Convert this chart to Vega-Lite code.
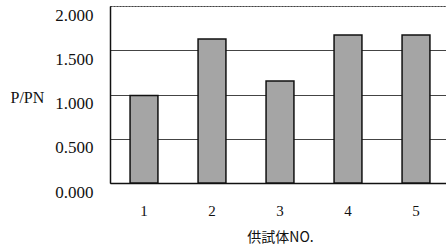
{
  "$schema": "https://vega.github.io/schema/vega-lite/v6.json",
  "autosize": "none",
  "padding": {"left": 110, "top": 6, "right": 0, "bottom": 66},
  "width": 340,
  "height": 177,
  "background": "white",
  "config": {
    "view": {"stroke": "#555", "strokeDash": [2, 1], "strokeWidth": 1},
    "font": "Liberation Serif"
  },
  "data": {"values": [
    {"no": "1", "ratio": 0.99},
    {"no": "2", "ratio": 1.627},
    {"no": "3", "ratio": 1.153},
    {"no": "4", "ratio": 1.672},
    {"no": "5", "ratio": 1.672}
  ]},
  "mark": {"type": "bar", "fill": "#a5a5a5", "stroke": "#111", "strokeWidth": 1.5},
  "encoding": {
    "x": {
      "field": "no", "type": "nominal",
      "scale": {"paddingInner": 0.59, "paddingOuter": 0.295},
      "axis": {
        "title": "供試体NO.",
        "titleFont": "Noto Sans CJK JP",
        "titleFontSize": 14, "titleFontWeight": "normal", "titleColor": "#111",
        "titlePadding": 12,
        "labelAngle": 0, "labelFont": "Liberation Serif", "labelFontSize": 15, "labelColor": "#111",
        "labelPadding": 25,
        "bandPosition": 0, "tickSize": -5, "tickColor": "#333",
        "domainColor": "#111", "domainWidth": 1.5
      }
    },
    "y": {
      "field": "ratio", "type": "quantitative",
      "scale": {"domain": [0, 2]},
      "axis": {
        "values": [0, 0.5, 1, 1.5, 2],
        "format": ".3f",
        "title": "P/PN", "titleAngle": 0, "titleAlign": "left", "titleBaseline": "middle",
        "titleX": -100, "titleY": 91,
        "titleFont": "Liberation Serif",
        "titleFontSize": 16, "titleFontWeight": "normal", "titleColor": "#111",
        "labelFont": "Liberation Serif",
        "labelFontSize": 17, "labelColor": "#111", "labelPadding": 17,
        "labelOffset": 9, "labelBaseline": "middle",
        "ticks": false,
        "grid": true, "gridColor": "#444", "gridWidth": 1,
        "gridDash": {"condition": {"test": "datum.value == 2", "value": [2, 1]}, "value": []},
        "domainColor": "#111", "domainWidth": 1.5
      }
    }
  }
}
